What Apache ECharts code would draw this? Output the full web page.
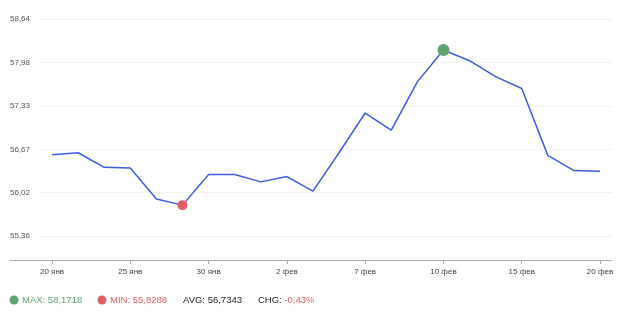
<!DOCTYPE html>
<html>
<head>
<meta charset="utf-8">
<title>ECharts</title>
<script src="https://cdn.jsdelivr.net/npm/echarts@6/dist/echarts.min.js"></script>
<style>
  html, body { margin: 0; padding: 0; background: #fff; }
</style>
</head>
<body>
<div id="main" style="width:620px;height:319px;"></div>
<script type="text/javascript">
// даты торговых дней (подписи показаны через каждые 3 точки)
var dates = ['20 янв', '21 янв', '24 янв', '25 янв', '28 янв', '29 янв', '30 янв', '31 янв',
             '1 фев', '2 фев', '5 фев', '6 фев', '7 фев', '8 фев', '9 фев', '10 фев',
             '13 фев', '14 фев', '15 фев', '16 фев', '19 фев', '20 фев'];
var values = [56.59, 56.62, 56.40, 56.39, 55.92, 55.8288, 56.29, 56.29, 56.18, 56.26, 56.04,
              56.62, 57.22, 56.96, 57.69, 58.1718, 58.01, 57.77, 57.59, 56.58, 56.35, 56.34];
var xTickIdx = [0, 3, 6, 9, 12, 15, 18, 21];
var yTicks = [55.36, 56.016, 56.672, 57.328, 57.984, 58.64];

var statMax = '58,1718';
var statMin = '55,8288';
var statAvg = '56,7343';
var statChg = '-0,43%';

var green = '#5fa46f';
var red = '#de5f68';

var seriesData = values.map(function (v, i) { return [i, v]; });

var myChart = echarts.init(document.getElementById('main'));

var option = {
    animation: false,
    grid: { left: 10, right: 8, top: 19, bottom: 59 },
    xAxis: {
        type: 'value',
        min: -1.61,
        max: 21.46,
        splitLine: { show: false },
        axisLine: { show: true, lineStyle: { color: '#aaa' } },
        axisTick: { show: true, length: 4, customValues: xTickIdx, lineStyle: { color: '#aaa' } },
        axisLabel: {
            customValues: xTickIdx,
            color: '#444',
            fontSize: 8,
            margin: 8,
            fontFamily: 'Liberation Sans, Arial, sans-serif',
            formatter: function (v) { return dates[Math.round(v)]; }
        }
    },
    yAxis: {
        type: 'value',
        min: 55.0,
        max: 58.64,
        axisLine: { show: false },
        axisTick: { show: false, customValues: yTicks },
        splitLine: { show: true, lineStyle: { color: '#f1f1f1' } },
        axisLabel: {
            customValues: yTicks,
            inside: true,
            margin: 0,
            color: '#555',
            fontSize: 8,
            fontFamily: 'Liberation Sans, Arial, sans-serif',
            backgroundColor: '#fff',
            padding: [2, 11, 2, 0],
            formatter: function (v) { return v.toFixed(2).replace('.', ','); }
        }
    },
    series: [{
        type: 'line',
        data: seriesData,
        showSymbol: false,
        lineStyle: { color: '#3d5ce0', width: 1.5 },
        itemStyle: { color: '#3d5ce0' },
        markPoint: {
            label: { show: false },
            symbol: 'circle',
            data: [
                { type: 'max', symbolSize: 12, itemStyle: { color: green } },
                { type: 'min', symbolSize: 10, itemStyle: { color: red } }
            ]
        }
    }],
    graphic: [
        { type: 'circle', shape: { cx: 14, cy: 300, r: 4.5 }, style: { fill: green } },
        { type: 'text', x: 22, y: 300, style: { text: 'MAX: ' + statMax, fill: green, font: '9.5px "Liberation Sans", Arial, sans-serif', verticalAlign: 'middle' } },
        { type: 'circle', shape: { cx: 102, cy: 300, r: 4.5 }, style: { fill: red } },
        { type: 'text', x: 110, y: 300, style: { text: 'MIN: ' + statMin, fill: red, font: '9.5px "Liberation Sans", Arial, sans-serif', verticalAlign: 'middle' } },
        { type: 'text', x: 183, y: 300, style: { text: 'AVG: ' + statAvg, fill: '#222', font: '9.5px "Liberation Sans", Arial, sans-serif', verticalAlign: 'middle' } },
        { type: 'text', x: 258, y: 300, style: {
            text: '{a|CHG: }{b|' + statChg + '}',
            verticalAlign: 'middle',
            rich: {
                a: { fill: '#222', fontSize: 9.5, fontFamily: 'Liberation Sans, Arial, sans-serif' },
                b: { fill: red, fontSize: 9.5, fontFamily: 'Liberation Sans, Arial, sans-serif' }
            }
        } }
    ]
};

myChart.setOption(option);
</script>
</body>
</html>
